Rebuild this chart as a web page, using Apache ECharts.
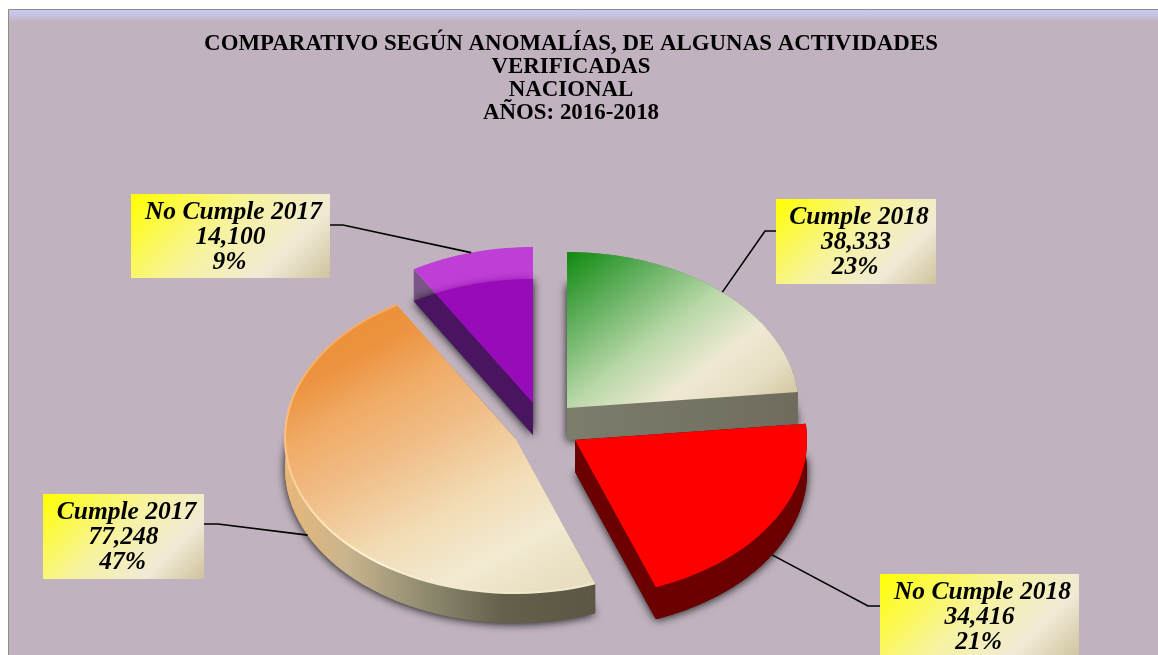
<!DOCTYPE html>
<html>
<head>
<meta charset="utf-8">
<style>
  html, body { margin: 0; padding: 0; background: #fff; }
  #chart { width: 1158px; height: 655px; }
</style>
<script src="https://cdn.jsdelivr.net/npm/echarts@6/dist/echarts.min.js"></script>
</head>
<body>
<div id="chart"></div>
<script>
const titleLines = [
  'COMPARATIVO SEGÚN ANOMALÍAS, DE ALGUNAS ACTIVIDADES',
  'VERIFICADAS',
  'NACIONAL',
  'AÑOS: 2016-2018'
];
const categories = ['Cumple 2018', 'No Cumple 2018', 'Cumple 2017', 'No Cumple 2017'];
const values = [38333, 34416, 77248, 14100];

const total = values.reduce((a, b) => a + b, 0);
const starts = values.map((v, i) => values.slice(0, i).reduce((a, b) => a + b, 0));

// layout of the exploded slices, back to front is purple, green, orange, red
const drawOrder = [3, 0, 2, 1];
const apex = [[567, 408], [575, 440], [515, 438], [533, 403]];
const radiusX = [232, 232, 230, 232];
const radiusY = [156, 157, 155, 156];
const depth = [32, 32, 30, 32];
const labelBox = [[776, 199, 160, 85], [880, 574, 199, 85], [43, 494, 161, 85], [131, 194, 199, 84]];
const labelElbow = [[765, 231], [868, 606], [218, 524], [343, 225]];
const leaderDrop = [0, 1, 1, 0];
const labelLineDx = [3, 0, -1];

const linear = (x, y, x2, y2, stops) => ({
  type: 'linear', x, y, x2, y2,
  colorStops: stops.map(s => ({ offset: s[0], color: s[1] }))
});

const topFill = [
  linear(0, 0, 0.65, 1.25, [[0, '#0e8a0e'], [0.25, '#63b05f'], [0.5, '#b9d8a8'], [0.72, '#efe9d4'], [0.88, '#e6dfc4'], [1, '#d6cca8']]),
  '#ff0000',
  linear(0.1, 0, 0.65, 1.1, [[0, '#ec8f33'], [0.18, '#ec9340'], [0.31, '#f0ab66'], [0.46, '#f0bc85'], [0.68, '#f2dcb5'], [0.85, '#f2ead2'], [1, '#e8dfc0']]),
  'rgba(190, 8, 225, 0.68)'
];
const wallFill = [
  linear(0, 0, 1, 0, [[0, '#7d7d6c'], [1, '#6f6c5e']]),
  '#6a0000',
  linear(0, 0, 1, 0, [[0, '#e8b878'], [0.2, '#c9b48e'], [0.45, '#8f8b70'], [0.7, '#65604c'], [1, '#5b5543']]),
  '#4a1560'
];

// 45 degree bands on the callout boxes, whatever their width
function labelFill(box) {
  const d = (box[2] + box[3]) / 2;
  return linear(0, 0, d / box[2], d / box[3], [[0, '#ffff00'], [0.45, '#f7f3a0'], [0.75, '#f0ead6'], [1, '#cfc39d']]);
}

function renderSlice(params, api) {
  const i = api.value(2);
  const start = starts[i];
  const end = start + values[i];
  const c0 = api.coord([0, 0]);
  const unitR = 100;

  // the hidden polar axes turn a value into an angle, the slice is then tilted to an ellipse
  const point = (v, dy) => {
    const p = api.coord([1, v]);
    return [
      apex[i][0] + (p[0] - c0[0]) / unitR * radiusX[i],
      apex[i][1] + (p[1] - c0[1]) / unitR * radiusY[i] + dy
    ];
  };
  const arc = dy => {
    const pts = [];
    for (let k = 0; k <= 60; k++) pts.push(point(start + (end - start) * k / 60, dy));
    return pts;
  };

  const d = depth[i];
  const top = arc(0);
  const low = arc(d);
  const a0 = apex[i];
  const a1 = [a0[0], a0[1] + d];
  const base = 10 * (drawOrder.indexOf(i) + 1);
  const children = [];

  children.push({
    type: 'polygon', z2: base,
    shape: { points: [a1].concat(low) },
    style: { fill: wallFill[i], shadowBlur: 10, shadowOffsetY: 1, shadowColor: 'rgba(20,20,20,1)' }
  });
  if (i === 3) {
    // purple top is see-through, only the cut side shows beside the lower face
    children.push({
      type: 'polygon', z2: base - 1,
      shape: { points: [a0, top[0], low[0], a1] },
      style: { fill: 'rgba(74,21,96,0.6)' }
    });
  } else {
    children.push({
      type: 'polygon', z2: base + 1,
      shape: { points: top.concat(low.slice().reverse()) },
      style: { fill: wallFill[i] }
    });
    children.push({
      type: 'polygon', z2: base + 1,
      shape: { points: [a0, top[0], low[0], a1] },
      style: { fill: wallFill[i] }
    });
    children.push({
      type: 'polygon', z2: base + 1,
      shape: { points: [a0, top[60], low[60], a1] },
      style: { fill: wallFill[i] }
    });
  }
  children.push({
    type: 'polygon', z2: base + 2,
    shape: { points: [a0].concat(top) },
    style: { fill: topFill[i] }
  });
  if (i === 2) {
    children.push({
      type: 'polyline', z2: base + 3,
      shape: { points: top },
      style: {
        fill: 'none', lineWidth: 2,
        stroke: linear(0, 0, 0.4, 1, [[0, '#f59a45'], [0.45, '#ffc98c'], [0.85, '#fff7dc'], [1, '#f1e9cd']])
      }
    });
  }

  // leader and callout box
  const box = labelBox[i];
  const mid = point(start + values[i] / 2, leaderDrop[i] * d);
  const elbow = labelElbow[i];
  const edgeX = elbow[0] > box[0] + box[2] / 2 ? box[0] + box[2] : box[0];
  children.push({
    type: 'polyline', z2: 100,
    shape: { points: [mid, elbow, [edgeX, elbow[1]]] },
    style: { fill: 'none', stroke: '#000', lineWidth: 1.6 }
  });
  children.push({
    type: 'rect', z2: 101,
    shape: { x: box[0], y: box[1], width: box[2], height: box[3] },
    style: { fill: labelFill(box) }
  });
  const lines = [categories[i], values[i].toLocaleString('en-US'), Math.round(values[i] / total * 100) + '%'];
  lines.forEach((line, n) => {
    children.push({
      type: 'text', z2: 102,
      style: {
        text: line,
        x: box[0] + box[2] / 2 + labelLineDx[n],
        y: box[1] + box[3] / 2 + 1 + (n - 1) * 25,
        align: 'center',
        verticalAlign: 'middle',
        font: 'italic bold 25.5px "Liberation Serif"',
        fill: '#000'
      }
    });
  });
  return { type: 'group', children };
}

const chart = echarts.init(document.getElementById('chart'), null, { renderer: 'canvas' });
chart.setOption({
  backgroundColor: '#ffffff',
  animation: false,
  title: {
    text: titleLines.join('\n'),
    left: 566,
    top: 28,
    textAlign: 'center',
    textStyle: {
      fontFamily: 'Liberation Serif',
      fontWeight: 'bold',
      fontSize: 22.9,
      lineHeight: 23,
      color: '#000'
    }
  },
  polar: { center: ['50%', '50%'], radius: 100 },
  angleAxis: { type: 'value', min: 0, max: total, startAngle: 90, clockwise: true, show: false },
  radiusAxis: { type: 'value', min: 0, max: 1, show: false },
  graphic: [
    { type: 'rect', z: -3, shape: { x: 8.5, y: 9.5, width: 1160, height: 660 }, style: { fill: '#c0b3bf', stroke: '#8c8c84', lineWidth: 1 } },
    { type: 'rect', z: -2, shape: { x: 9, y: 10, width: 1150, height: 12 }, style: { fill: linear(0, 0, 0, 1, [[0, '#c9c9f3'], [0.45, '#c8c2e0'], [1, '#c0b3bf']]) } }
  ],
  series: [{
    type: 'custom',
    coordinateSystem: 'polar',
    silent: true,
    clip: false,
    encode: { radius: 0, angle: 1 },
    data: drawOrder.map(i => [1, starts[i], i]),
    renderItem: renderSlice
  }]
});
</script>
</body>
</html>
